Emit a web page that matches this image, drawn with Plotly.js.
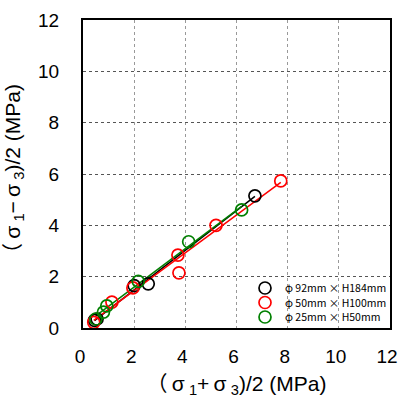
<!DOCTYPE html>
<html><head><meta charset="utf-8">
<script src="https://cdn.plot.ly/plotly-3.0.1.min.js"></script>
<style>html,body{margin:0;padding:0;background:#fff}#c{width:398px;height:398px}</style>
</head><body><div id="c"></div>
<script>
const names = ["\u03c6 92mm \u00d7 H184mm", "\u03c6 50mm \u00d7 H100mm", "\u03c6 25mm \u00d7 H50mm"];
const colors = ["#000000", "#ff0000", "#008000"];
const blackX = [0.45, 0.55, 2.0, 2.55, 6.72];
const blackY = [0.30, 0.35, 1.65, 1.72, 5.15];
const redX = [0.42, 1.13, 1.95, 3.71, 3.75, 5.2, 7.73];
const redY = [0.22, 1.01, 1.56, 2.84, 2.15, 4.0, 5.73];
const greenX = [0.5, 0.8, 0.93, 2.16, 4.13, 6.2];
const greenY = [0.35, 0.62, 0.86, 1.82, 3.36, 4.6];
const ticks = [0, 2, 4, 6, 8, 10, 12];

function fit(x, y) {
  const n = x.length;
  const mx = x.reduce((a, b) => a + b, 0) / n;
  const my = y.reduce((a, b) => a + b, 0) / n;
  let sxx = 0, sxy = 0;
  for (let i = 0; i < n; i++) { sxx += (x[i] - mx) ** 2; sxy += (x[i] - mx) * (y[i] - my); }
  const m = sxy / sxx, b = my - m * mx;
  const x0 = Math.min(...x), x1 = Math.max(...x);
  return { x: [x0, x1], y: [m * x0 + b, m * x1 + b] };
}

const sets = [[blackX, blackY], [redX, redY], [greenX, greenY]];
const legendIds = ['legend', 'legend2', 'legend3'];
const traces = [];
sets.forEach((s, i) => {
  const f = fit(s[0], s[1]);
  traces.push({ x: f.x, y: f.y, mode: 'lines', line: { color: colors[i], width: 1.5 }, showlegend: false, hoverinfo: 'skip' });
});
sets.forEach((s, i) => {
  traces.push({ x: s[0], y: s[1], mode: 'markers', name: names[i], legend: legendIds[i],
    marker: { symbol: 'circle-open', size: 12, color: colors[i], line: { width: 1.7, color: colors[i] } } });
});

const jp = '"Noto Sans CJK JP", sans-serif';
const tf = '"Liberation Sans", "Noto Sans CJK JP", sans-serif';
const axisCommon = {
  range: [0, 12], tickvals: ticks, ticktext: ticks.map(String),
  showline: true, linecolor: '#000', linewidth: 2, mirror: true,
  ticks: '', zeroline: false, ticklabeloverflow: 'allow', automargin: false,
  tickfont: { family: '"Liberation Sans", Arial, sans-serif', size: 19, color: '#000' },
  showgrid: true, griddash: 'dot', gridwidth: 1
};
// plot area in pixels: x 83..390, y 20..328
function leg(yPix) {
  return { x: (245 - 83) / 307, y: (328 - yPix) / 308, xref: 'paper', yref: 'paper',
    xanchor: 'left', yanchor: 'middle', bgcolor: 'rgba(0,0,0,0)',
    font: { family: jp, size: 10.5, color: '#000' }, itemwidth: 30 };
}
const layout = {
  width: 398, height: 398,
  margin: { l: 83, r: 8, t: 20, b: 70, autoexpand: false },
  paper_bgcolor: '#fff', plot_bgcolor: '#fff',
  showlegend: true,
  legend: leg(288), legend2: leg(302.5), legend3: leg(317),
  xaxis: Object.assign({}, axisCommon, { gridcolor: '#999', ticklabelstandoff: 10, ticklabelshift: -3, automargin: true,
    title: { text: '\uff08\u2009\u03c3\u2009<sub>1</sub>+\u2009\u03c3\u2009<sub>3</sub>)/2 (MPa)', font: { family: tf, size: 21, color: '#000' }, standoff: 18 } }),
  yaxis: Object.assign({}, axisCommon, { gridcolor: '#555', ticklabelstandoff: 18,
    title: { text: '\uff08\u2009\u03c3\u2009<sub>1</sub>\u2212\u2009\u03c3\u2009<sub>3</sub>)/2 (MPa)', font: { family: tf, size: 21, color: '#000' }, standoff: 12 } })
};
Plotly.newPlot('c', traces, layout, { staticPlot: true, displayModeBar: false });
</script>
</body></html>
